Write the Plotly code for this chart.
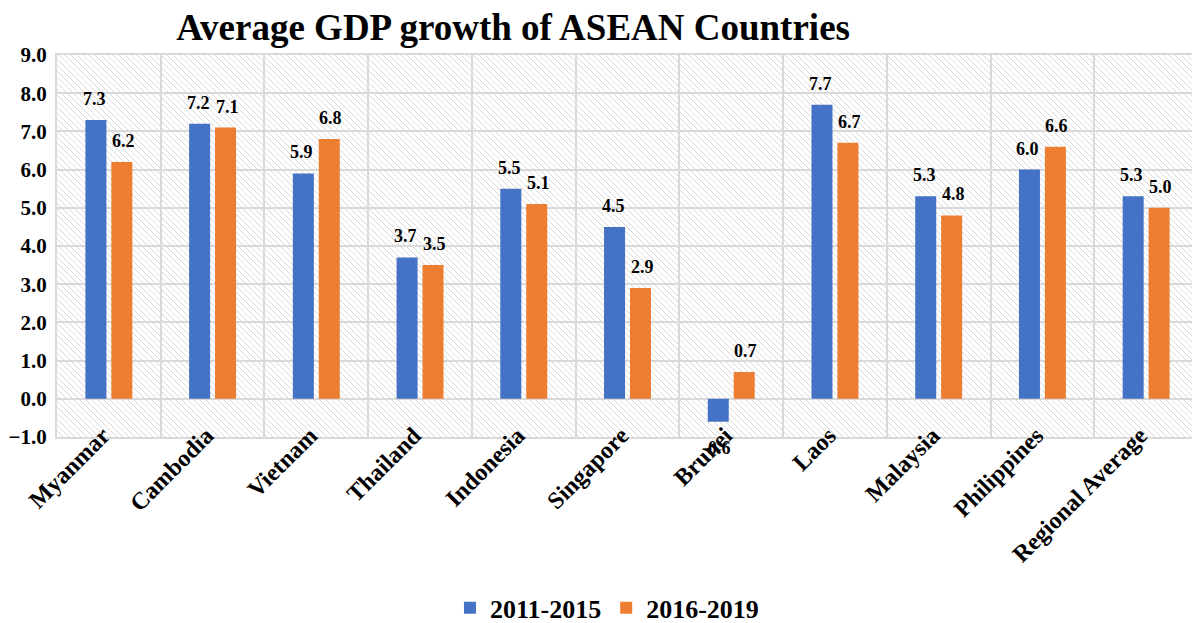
import plotly.graph_objects as go

# Data
countries = ["Myanmar", "Cambodia", "Vietnam", "Thailand", "Indonesia", "Singapore",
             "Brunei", "Laos", "Malaysia", "Philippines", "Regional Average"]
growth_2011_2015 = [7.3, 7.2, 5.9, 3.7, 5.5, 4.5, -0.6, 7.7, 5.3, 6.0, 5.3]
growth_2016_2019 = [6.2, 7.1, 6.8, 3.5, 5.1, 2.9, 0.7, 6.7, 4.8, 6.6, 5.0]
series_names = ["2011-2015", "2016-2019"]
y_ticks = [-1, 0, 1, 2, 3, 4, 5, 6, 7, 8, 9]

BLUE = "#4472C4"
ORANGE = "#ED7D31"
GRID = "#d9d9d9"
FONT = "Liberation Serif"

# the page body keeps an 8px margin, so the figure is a bit smaller than the window
W, H = 1192, 615
margin = dict(l=49, r=2, t=47, b=186, autoexpand=False)

fig = go.Figure()

fig.add_trace(go.Bar(x=countries, y=growth_2011_2015, name=series_names[0],
                     marker=dict(color=BLUE, line=dict(width=0))))
fig.add_trace(go.Bar(x=countries, y=growth_2016_2019, name=series_names[1],
                     marker=dict(color=ORANGE, line=dict(width=0))))

# value labels, pushed a bit away from the bar ends
for vals, shift in [(growth_2011_2015, -14.5), (growth_2016_2019, 14.5)]:
    for c, v in zip(countries, vals):
        fig.add_annotation(x=c, y=v, text=f"{v:.1f}",
                           xshift=shift, yshift=21 if v >= 0 else -26,
                           showarrow=False, yanchor="middle",
                           font=dict(family=FONT, size=18, color="black", weight="bold"))

# hatched background of the plot area (diagonal thin lines)
pw = W - margin["l"] - margin["r"]
ph = H - margin["t"] - margin["b"]
step = 6
parts = []
c = -ph
while c < pw:
    if c >= 0:
        x0, y0 = c, 0
    else:
        x0, y0 = 0, -c
    if c + ph <= pw:
        x1, y1 = c + ph, ph
    else:
        x1, y1 = pw, pw - c
    parts.append(f"M{x0 / pw:.5f},{1 - y0 / ph:.5f}L{x1 / pw:.5f},{1 - y1 / ph:.5f}")
    c += step
fig.add_shape(type="path", path="".join(parts), xref="paper", yref="paper",
              layer="below", line=dict(color="#d8d8d8", width=1))

fig.update_layout(
    width=W, height=H,
    margin=margin,
    barmode="group",
    bargap=0.5,
    bargroupgap=0.19,
    plot_bgcolor="white",
    paper_bgcolor="white",
    font=dict(family=FONT, color="black"),
    title=dict(text="Average GDP growth of ASEAN Countries",
               x=0.4237, xref="container", xanchor="center",
               y=0.99, yref="container", yanchor="top",
               font=dict(family=FONT, size=37, color="black", weight="bold")),
    legend=dict(orientation="h", x=0.482, xanchor="center", y=-0.447, yanchor="middle",
                font=dict(family=FONT, size=26, color="black", weight="bold"),
                itemwidth=30, bgcolor="rgba(0,0,0,0)"),
    showlegend=True,
)

fig.update_xaxes(
    type="category",
    tickson="boundaries",
    tickangle=-45,
    ticklabelshift=-6,
    ticklabelstandoff=-27,
    automargin=False,
    showgrid=True, gridcolor=GRID, gridwidth=2,
    showline=True, mirror=True, linecolor=GRID, linewidth=2,
    ticks="",
    tickfont=dict(family=FONT, size=24, color="black", weight="bold"),
)
fig.update_yaxes(
    range=[-1, 9],
    tickvals=y_ticks,
    tickformat=".1f",
    automargin=False,
    showgrid=True, gridcolor=GRID, gridwidth=2,
    zeroline=True, zerolinecolor=GRID, zerolinewidth=2,
    showline=True, mirror=True, linecolor=GRID, linewidth=2,
    ticks="", ticklabelstandoff=4,
    tickfont=dict(family=FONT, size=21, color="black", weight="bold"),
)

fig.write_html("out.html")
